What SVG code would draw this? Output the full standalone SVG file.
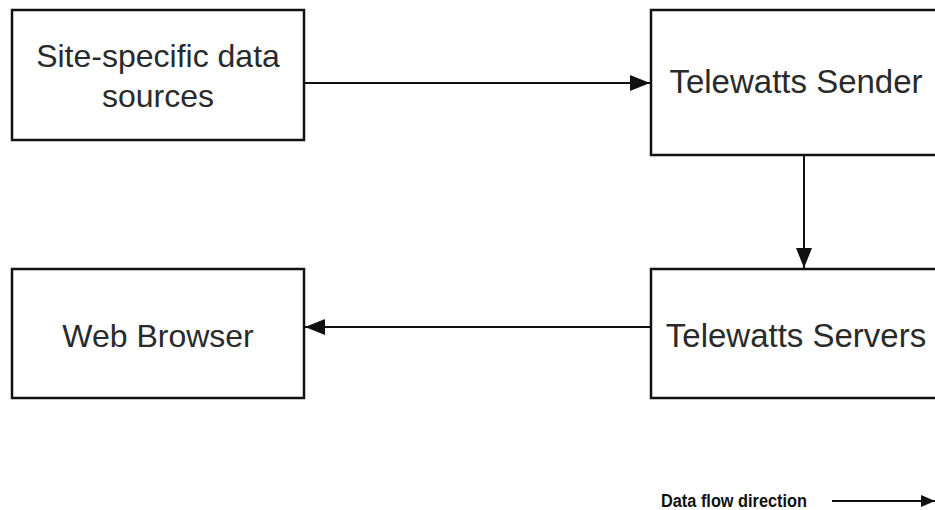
<svg xmlns="http://www.w3.org/2000/svg" width="935" height="510" viewBox="0 0 935 510">
<style>
.box{fill:#fff;stroke:#111;stroke-width:2.5}
.lbl{font-family:"Liberation Sans",Arial,sans-serif;font-size:32px;fill:#2a2a2a;text-anchor:middle}
.lbl.big{font-size:33px}
.conn{stroke:#111;stroke-width:2;fill:none}
.leg{font-family:"Liberation Sans",Arial,sans-serif;font-size:18px;font-weight:bold;fill:#111}
</style>
<defs>
<marker id="ah" viewBox="0 0 20 16" refX="20" refY="8" markerWidth="20" markerHeight="16" markerUnits="userSpaceOnUse" orient="auto">
<path d="M0,0 L20,8 L0,16 Z" fill="#111"/>
</marker>
<marker id="ahs" viewBox="0 0 14 12" refX="14" refY="6" markerWidth="14" markerHeight="12" markerUnits="userSpaceOnUse" orient="auto">
<path d="M0,0 L14,6 L0,12 Z" fill="#111"/>
</marker>
</defs>
<rect width="935" height="510" fill="#fff"/>
<g id="connectors">
<line class="conn" x1="305" y1="83" x2="650" y2="83" marker-end="url(#ah)"/>
<line class="conn" x1="804" y1="155" x2="804" y2="268" marker-end="url(#ah)"/>
<line class="conn" x1="651" y1="327" x2="305" y2="327" marker-end="url(#ah)"/>
</g>
<g id="node-sources">
<rect class="box" x="12" y="10" width="292" height="130"/>
<text class="lbl" x="158" y="67">Site-specific data</text>
<text class="lbl" x="158" y="107">sources</text>
</g>
<g id="node-sender">
<rect class="box" x="651" y="10" width="320" height="145"/>
<text class="lbl big" x="796" y="93">Telewatts Sender</text>
</g>
<g id="node-servers">
<rect class="box" x="651" y="269" width="320" height="129"/>
<text class="lbl big" x="796" y="347">Telewatts Servers</text>
</g>
<g id="node-browser">
<rect class="box" x="12" y="269" width="292" height="129"/>
<text class="lbl" x="158" y="347">Web Browser</text>
</g>
<g id="legend">
<text class="leg" x="661" y="507" textLength="146" lengthAdjust="spacingAndGlyphs">Data flow direction</text>
<line class="conn" x1="832" y1="501" x2="935" y2="501" marker-end="url(#ahs)"/>
</g>
</svg>
